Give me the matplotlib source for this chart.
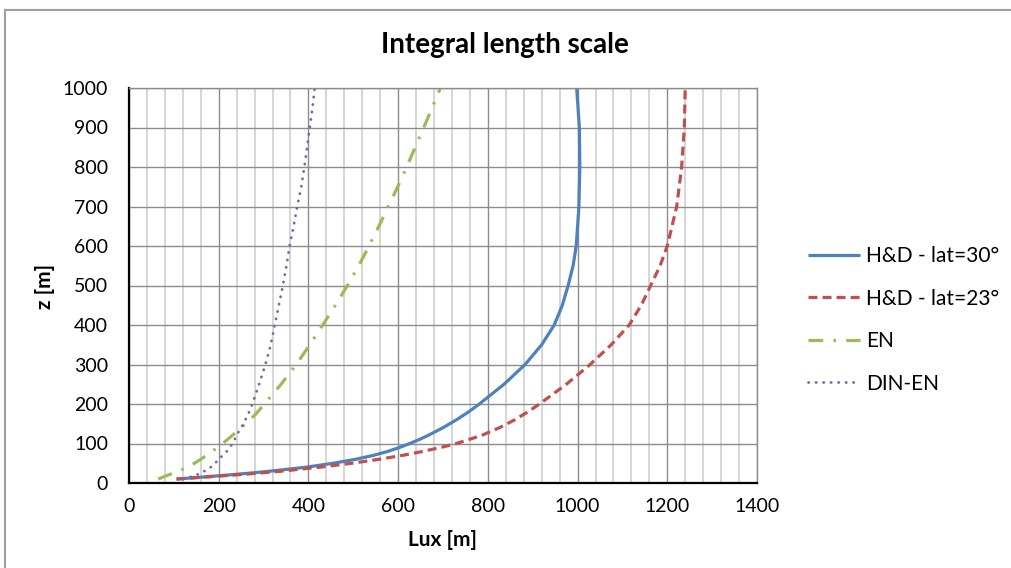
import matplotlib
matplotlib.use('Agg')
import matplotlib.pyplot as plt
from matplotlib.lines import Line2D
from matplotlib.ticker import MultipleLocator


# values
z_hd30 = [10, 15, 20, 25, 30, 40, 50, 60, 70, 80, 90, 100, 110, 120, 140,
          160, 180, 200, 250, 300, 350, 400, 450, 500, 550, 600, 700, 800,
          900, 1000]
lux_hd30 = [106, 163, 218, 270, 315, 395, 455, 505, 545, 577, 603, 626, 647,
            666, 700, 730, 757, 781, 836, 883, 920, 948, 966, 979, 990, 997,
            1003, 1005, 1004, 998]

z_hd23 = [10, 15, 20, 25, 30, 40, 50, 60, 70, 80, 90, 100, 120, 140, 160,
          180, 200, 250, 300, 350, 400, 450, 500, 550, 600, 700, 800, 900,
          1000]
lux_hd23 = [106, 170, 232, 290, 340, 425, 497, 557, 610, 655, 695, 730, 785,
            826, 860, 889, 915, 975, 1028, 1075, 1115, 1142, 1163, 1184, 1200,
            1221, 1232, 1238, 1240]

z_en = [10, 20, 30, 40, 50, 60, 80, 100, 125, 150, 175, 200, 250, 300, 350,
        400, 450, 500, 550, 600, 650, 700, 750, 800, 850, 900, 950, 1000]
lux_en = [65, 87, 110, 130, 146, 160, 185, 209, 235, 260, 283, 302, 339, 373,
          403, 432, 460, 487, 512, 535, 557, 578, 599, 619, 638, 657, 676, 694]

z_din = [10, 20, 30, 40, 50, 60, 80, 100, 125, 150, 175, 200, 250, 300, 350,
         400, 450, 500, 550, 600, 650, 700, 750, 800, 850, 900, 950, 1000]
lux_din = [121, 150, 168, 182, 192, 200, 218, 231, 242, 255, 266, 275, 290,
           304, 316, 325, 334, 343, 351, 358, 367, 375, 384, 391, 397, 403,
           409, 414]

labels = ['H&D - lat=30°', 'H&D - lat=23°', 'EN', 'DIN-EN']
colors = ['#4F81BD', '#C0504D', '#9BBB59', '#8064A2']

plt.rcParams['font.family'] = ['Lato', 'DejaVu Sans']

W, H = 1011, 568
fig = plt.figure(figsize=(W / 100, H / 100), dpi=100)
ax = fig.add_axes([129 / W, 1 - 483 / H, (757 - 129) / W, (483 - 88) / H])

styles = [
    dict(color=colors[0], lw=2.3, solid_capstyle='butt',
         solid_joinstyle='round'),
    dict(color=colors[1], lw=2.3, linestyle=(0, (2.8, 1.6))),
    dict(color=colors[2], lw=2.3, linestyle=(0, (4.6, 3.2, 0.8, 3.2))),
    dict(color=colors[3], lw=2.0, linestyle=(0, (0.1, 2.6)),
         dash_capstyle='round'),
]

ax.plot(lux_hd30, z_hd30, **styles[0])
ax.plot(lux_hd23, z_hd23, **styles[1])
ax.plot(lux_en, z_en, **styles[2])
ax.plot(lux_din, z_din, **styles[3])

ax.set_xlim(0, 1400)
ax.set_ylim(0, 1000)
ax.xaxis.set_major_locator(MultipleLocator(200))
ax.xaxis.set_minor_locator(MultipleLocator(40))
ax.yaxis.set_major_locator(MultipleLocator(100))

ax.set_axisbelow(True)
ax.grid(which='minor', axis='x', color='#D0D0D0', lw=1.2)
ax.grid(which='major', axis='x', color='#8C8C8C', lw=1.0)
ax.grid(which='major', axis='y', color='#8C8C8C', lw=1.0)

for side in ['top', 'right']:
    ax.spines[side].set_color('#8C8C8C')
    ax.spines[side].set_linewidth(1.0)
for side in ['left', 'bottom']:
    ax.spines[side].set_color('black')
    ax.spines[side].set_linewidth(1.6)

ax.tick_params(which='both', length=0, labelsize=14)
ax.tick_params(axis='y', pad=15)
ax.tick_params(axis='x', pad=11)

fig.text(505 / W, 1 - 45 / H, 'Integral length scale', ha='center',
         va='center', fontsize=20, fontweight='bold')
fig.text(443 / W, 1 - 540 / H, 'Lux [m]', ha='center', va='center',
         fontsize=15, fontweight='bold')
fig.text(45 / W, 1 - 286 / H, 'z [m]', ha='center', va='center',
         fontsize=15, fontweight='bold', rotation=90)

handles = [Line2D([], [], **s) for s in styles]
fig.legend(handles, labels, loc='center left',
           bbox_to_anchor=(808 / W, 1 - 320 / H),
           bbox_transform=fig.transFigure, frameon=False, fontsize=15,
           handlelength=2.5, handletextpad=0.29, labelspacing=1.08,
           borderpad=0, borderaxespad=0)

# chart area border (top and left edges are visible)
fig.add_artist(Line2D([4.5 / W, 4.5 / W], [0, 1 - 10 / H], color='#A0A0A0',
                      lw=1.5, transform=fig.transFigure))
fig.add_artist(Line2D([4.5 / W, 1], [1 - 10 / H, 1 - 10 / H], color='#A0A0A0',
                      lw=1.5, transform=fig.transFigure))

fig.savefig('out.png', dpi=100)
